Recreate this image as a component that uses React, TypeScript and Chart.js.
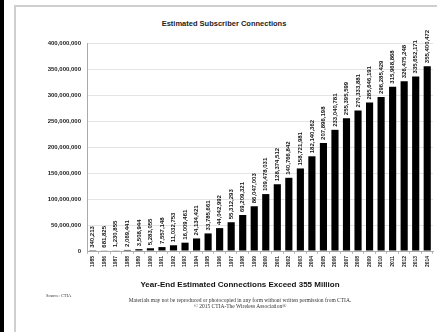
import React, { useEffect, useRef } from "react";
import { Chart, registerables } from "chart.js";

Chart.register(...registerables);

const years = [
  "1985", "1986", "1987", "1988", "1989", "1990", "1991", "1992", "1993", "1994",
  "1995", "1996", "1997", "1998", "1999", "2000", "2001", "2002", "2003", "2004",
  "2005", "2006", "2007", "2008", "2009", "2010", "2011", "2012", "2013", "2014",
];

const connections = [
  340213, 681825, 1230855, 2069441, 3508944, 5283055, 7557148, 11032753, 16009461, 24134421,
  33785661, 44042992, 55312293, 69209321, 86047003, 109478031, 128374512, 140766842, 158721981, 182140362,
  207896198, 233040781, 255395599, 270333881, 285646191, 296285429, 315968868, 326475248, 335652171, 355400472,
];

const yTickValues = [0, 50000000, 100000000, 150000000, 200000000, 250000000, 300000000, 350000000, 400000000];

const fmt = (v: number) => v.toLocaleString("en-US");

const valueLabels = {
  id: "valueLabels",
  afterDatasetsDraw(chart: any) {
    const ctx = chart.ctx;
    const meta = chart.getDatasetMeta(0);
    ctx.save();
    ctx.fillStyle = "#111";
    ctx.font = "bold 6px 'Liberation Sans', Arial, sans-serif";
    ctx.textAlign = "left";
    ctx.textBaseline = "middle";
    meta.data.forEach((bar: any, i: number) => {
      ctx.save();
      ctx.translate(bar.x, bar.y - 3);
      ctx.rotate(-Math.PI / 2);
      ctx.fillText(fmt(connections[i]), 0, 0);
      ctx.restore();
    });
    ctx.restore();
  },
};

export default function App() {
  const ref = useRef<HTMLCanvasElement>(null);

  useEffect(() => {
    document.body.style.margin = "0";
    const chart = new Chart(ref.current!, {
      type: "bar",
      data: {
        labels: years,
        datasets: [
          {
            data: connections,
            backgroundColor: "#000",
            borderWidth: 0,
            barPercentage: 0.62,
            categoryPercentage: 1,
          },
        ],
      },
      options: {
        responsive: false,
        animation: false,
        layout: { padding: { left: 30, right: 4, top: 43, bottom: 61 } },
        plugins: {
          legend: { display: false },
          tooltip: { enabled: false },
        },
        scales: {
          x: {
            grid: { display: true, drawOnChartArea: false, tickLength: 3, color: "#bbb" },
            border: { color: "#aaa" },
            afterFit: (s: any) => { s.height = 20; },
            ticks: {
              autoSkip: false,
              maxRotation: 90,
              minRotation: 90,
              padding: 2,
              color: "#222",
              font: { size: 5, weight: "bold", family: "'Liberation Sans', Arial, sans-serif" },
            },
          },
          y: {
            min: 0,
            max: 400000000,
            afterFit: (s: any) => { s.width = 57; },
            afterBuildTicks: (s: any) => { s.ticks = yTickValues.map((v) => ({ value: v })); },
            grid: { color: "#e4e4e4", tickLength: 3, drawTicks: false },
            border: { color: "#aaa" },
            ticks: {
              padding: 6,
              color: "#222",
              font: { size: 6, weight: "bold", family: "'Liberation Sans', Arial, sans-serif" },
              callback: (v: any) => fmt(Number(v)),
            },
          },
        },
      },
      plugins: [valueLabels],
    });
    return () => chart.destroy();
  }, []);

  const sans = "'Liberation Sans', Arial, sans-serif";
  const serif = "'Liberation Serif', 'Times New Roman', serif";

  return (
    <div style={{ position: "absolute", left: 0, top: 0, width: 437, height: 332, background: "#fff", overflow: "hidden" }}>
      <div style={{ position: "absolute", left: 0, top: 0, width: 4, height: 332, background: "#000" }} />
      <div style={{ position: "absolute", left: 14, top: 5, width: 440, height: 340, borderLeft: "2px solid #cfcfcf", borderTop: "2px solid #cfcfcf" }} />
      <div style={{ position: "absolute", left: 0, top: 19, width: 448, textAlign: "center", fontFamily: sans, fontWeight: "bold", fontSize: 7.5, color: "#222", lineHeight: "10px" }}>
        Estimated Subscriber Connections
      </div>
      <canvas ref={ref} width={437} height={332} style={{ position: "absolute", left: 0, top: 0 }} />
      <div style={{ position: "absolute", left: 0, top: 280, width: 480, textAlign: "center", fontFamily: sans, fontWeight: "bold", fontSize: 8, color: "#111", lineHeight: "10px" }}>
        Year-End Estimated Connections Exceed 355 Million
      </div>
      <div style={{ position: "absolute", left: 46, top: 293, fontFamily: serif, fontSize: 4.5, color: "#333", lineHeight: "6px" }}>
        Source: CTIA
      </div>
      <div style={{ position: "absolute", left: 0, top: 298, width: 480, textAlign: "center", fontFamily: serif, fontSize: 5.5, color: "#333", lineHeight: "5.5px" }}>
        <div>Materials may not be reproduced or photocopied in any form without written permission from CTIA.</div>
        <div>© 2015 CTIA-The Wireless Association®</div>
      </div>
    </div>
  );
}
